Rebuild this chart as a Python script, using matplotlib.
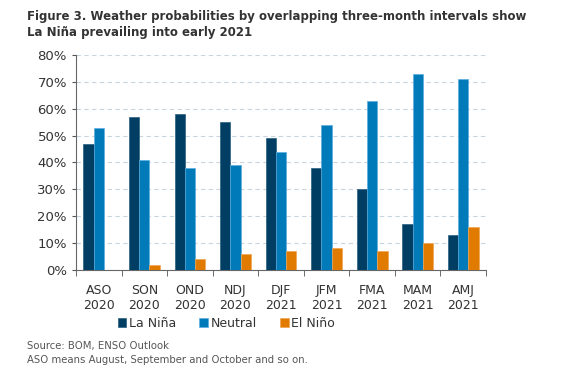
import numpy as np
import matplotlib
matplotlib.use("Agg")
import matplotlib.pyplot as plt
from matplotlib.ticker import FuncFormatter

plt.rcParams['font.family'] = ['DejaVu Sans']

# Datos
periodos = ["ASO\n2020", "SON\n2020", "OND\n2020", "NDJ\n2020", "DJF\n2021",
            "JFM\n2021", "FMA\n2021", "MAM\n2021", "AMJ\n2021"]
la_nina = [47, 57, 58, 55, 49, 38, 30, 17, 13]
neutral = [53, 41, 38, 39, 44, 54, 63, 73, 71]
el_nino = [0, 2, 4, 6, 7, 8, 7, 10, 16]

series = ["La Niña", "Neutral", "El Niño"]
colores = ["#003f63", "#007ab9", "#e07b00"]
bordes = ["#2a5f80", "#5aaee0", "#f0a550"]

fig = plt.figure(figsize=(5.8, 3.85), dpi=100)
ax = fig.add_axes([0.131, 0.299, 0.707, 0.558])

x = np.arange(len(periodos))
ancho = 0.225
for k, (vals, nombre) in enumerate(zip([la_nina, neutral, el_nino], series)):
    ax.bar(x + (k - 1) * ancho, vals, ancho, color=colores[k],
           edgecolor=bordes[k], linewidth=0.5, label=nombre, zorder=3)

ax.set_xlim(-0.5, len(periodos) - 0.5)
ax.set_ylim(0, 80)
ax.set_yticks(range(0, 81, 10))
ax.yaxis.set_major_formatter(FuncFormatter(lambda v, p: f"{int(v)}%"))
ax.set_xticks(x)
ax.set_xticklabels(periodos)
ax.set_xticks(np.arange(-0.5, len(periodos)), minor=True)
ax.tick_params(axis="x", which="major", length=0, pad=10, labelsize=9, colors="#333333")
ax.tick_params(axis="x", which="minor", length=4, color="#555555")
ax.tick_params(axis="y", length=3, color="#555555", labelsize=9.5, labelcolor="#333333")

ax.grid(axis="y", linestyle=(0, (4, 3)), color="#c8d5de", linewidth=0.8, zorder=0)
for s in ["top", "right"]:
    ax.spines[s].set_visible(False)
ax.spines["left"].set_color("#666666")
ax.spines["bottom"].set_color("#666666")

leg = fig.legend(loc="center", bbox_to_anchor=(0.39, 0.161), ncol=3, frameon=False,
                 fontsize=9, handlelength=0.7, handleheight=0.7, handletextpad=0.2,
                 columnspacing=1.85)
for t in leg.get_texts():
    t.set_color("#333333")

fig.text(0.047, 0.975, "Figure 3. Weather probabilities by overlapping three-month intervals show\n"
         "La Niña prevailing into early 2021", fontsize=8.5, fontweight="bold",
         color="#333333", va="top", ha="left", linespacing=1.3)
fig.text(0.047, 0.115, "Source: BOM, ENSO Outlook\nASO means August, September and October and so on.",
         fontsize=7.3, color="#555555", va="top", ha="left", linespacing=1.55)

fig.savefig("out.png", dpi=100)
